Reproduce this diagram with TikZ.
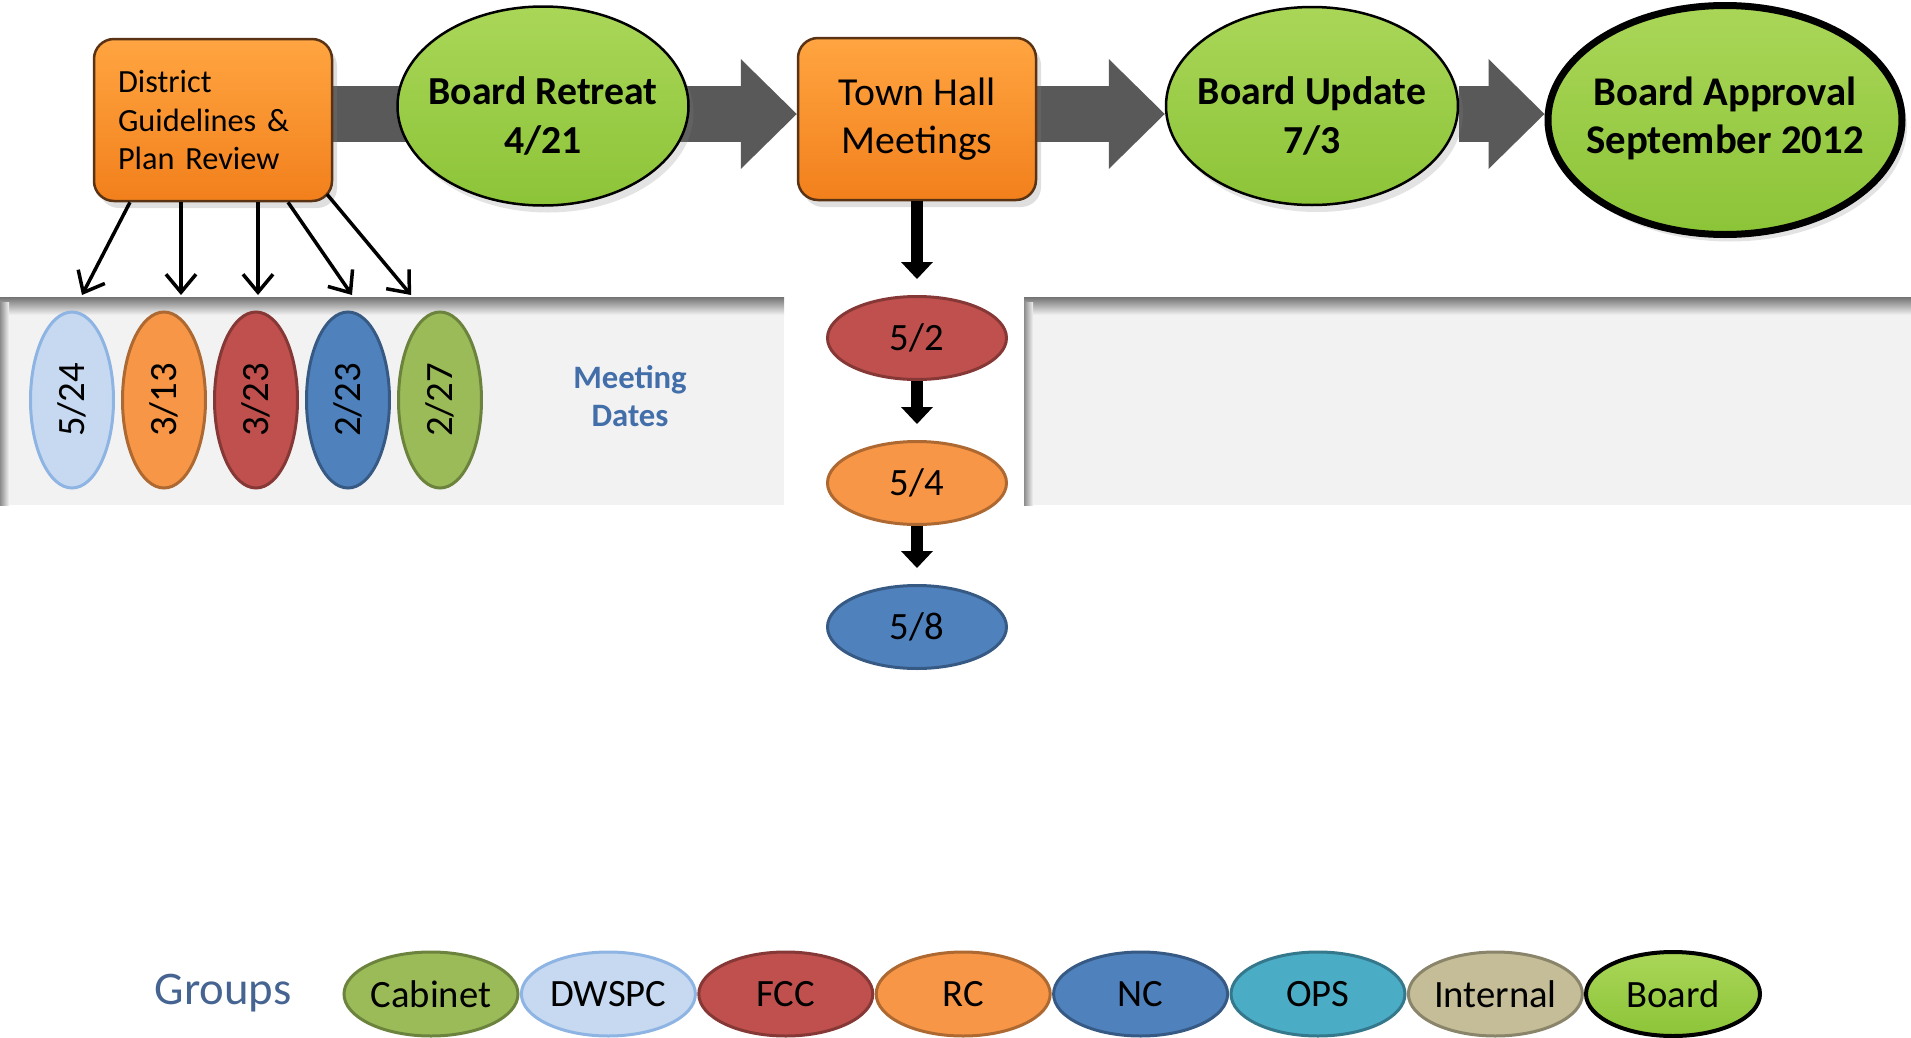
\documentclass[tikz,border=0pt]{standalone}
\usepackage{fontspec}
\setmainfont{Carlito}
\usetikzlibrary{arrows.meta,calc,shapes.geometric,backgrounds,shadows}
\definecolor{BoxOrange}{RGB}{242,128,28}
\definecolor{BoxOrangeTop}{RGB}{255,165,65}
\definecolor{BoxEdge}{RGB}{90,50,20}
\definecolor{BoardGreen}{RGB}{140,196,56}
\definecolor{BoardGreenTop}{RGB}{170,214,88}
\definecolor{FlowGray}{RGB}{89,89,89}
\definecolor{BandGray}{RGB}{242,242,242}
\definecolor{LabelBlue}{RGB}{66,110,170}
\definecolor{GroupBlue}{RGB}{70,100,145}
\definecolor{CabinetGreen}{RGB}{155,187,89}
\definecolor{DwspcBlue}{RGB}{198,217,241}
\definecolor{DwspcEdge}{RGB}{141,180,226}
\definecolor{FccRed}{RGB}{192,80,77}
\definecolor{RcOrange}{RGB}{247,150,70}
\definecolor{NcBlue}{RGB}{79,129,189}
\definecolor{OpsTeal}{RGB}{75,172,198}
\definecolor{InternalTan}{RGB}{196,189,151}
\tikzset{
  stepbox/.style={rectangle, rounded corners=2mm, draw=BoxEdge, line width=0.25mm,
    top color=BoxOrangeTop, bottom color=BoxOrange, minimum width=23.8mm, minimum height=16.2mm,
    inner sep=0pt, drop shadow={opacity=0.25, shadow xshift=0.5mm, shadow yshift=-0.7mm}},
  boardnode/.style={ellipse, draw=black, line width=0.25mm, top color=BoardGreenTop, bottom color=BoardGreen,
    inner sep=0pt, drop shadow={opacity=0.22, shadow xshift=0.5mm, shadow yshift=-0.7mm}},
  boardtext/.style={align=center, inner sep=0pt, font=\fontsize{11.3}{13.7}\selectfont\bfseries},
  datenode/.style={ellipse, line width=0.3mm, inner sep=0pt, font=\fontsize{11}{13}\selectfont},
  groupnode/.style={ellipse, line width=0.3mm, inner xsep=-1mm, inner ysep=0pt,
    minimum width=17.4mm, minimum height=8.4mm, font=\fontsize{11}{13}\selectfont},
  flowarrow/.style={FlowGray, line width=5.6mm, -{Triangle[length=5.6mm, width=11mm, line width=0pt]}},
  feedarrow/.style={black, line width=0.35mm, -{Straight Barb[length=1.8mm, width=3mm]}},
  pusharrow/.style={black, line width=1.2mm, shorten >=1.6mm, -{Triangle[length=1.7mm, width=3.2mm, line width=0pt]}},
}
\begin{document}
\begin{tikzpicture}[x=0.1mm, y=-0.1mm, every node/.style={font=\fontsize{11}{13}\selectfont}]
  \useasboundingbox (0,0) rectangle (1911,1038);

  % meeting band
  \fill[BandGray] (0,297) rectangle (784,505);
  \fill[BandGray] (1024,297) rectangle (1911,505);
  \shade[top color=black!55, bottom color=BandGray] (0,297) rectangle (784,315);
  \shade[top color=black!55, bottom color=BandGray] (1024,297) rectangle (1911,315);
  \shade[left color=black!45, right color=BandGray] (0,302) rectangle (9,505);
  \shade[left color=black!45, right color=BandGray] (1024,302) rectangle (1033,505);

  % main steps
  \node[stepbox, align=left, text width=19mm, font=\fontsize{9.2}{10.9}\selectfont] (dist) at (213,120) {District\\Guidelines \&\\Plan Review};
  \node[boardnode, minimum width=29.1mm, minimum height=19.9mm,
    label={[boardtext, yshift=-1mm]center:{Board Retreat\\4/21}}] (retreat) at (543,106) {};
  \node[stepbox, align=center, font=\fontsize{11.3}{13.7}\selectfont] (townhall) at (917,119) {Town Hall\\Meetings};
  \node[boardnode, minimum width=29.2mm, minimum height=19.8mm,
    label={[boardtext, yshift=-1mm]center:{Board Update\\7/3}}] (update) at (1312,106) {};
  \node[boardnode, line width=0.7mm, minimum width=35.4mm, minimum height=22.9mm,
    label={[boardtext, font=\fontsize{11.6}{13.7}\selectfont\bfseries, yshift=0.2mm]center:{Board Approval\\September 2012}}] (approval) at (1725,120) {};

  \coordinate (axis) at (0,114);
  \begin{scope}[on background layer]
    \draw[flowarrow] (dist.east |- axis) -- (townhall.west |- axis);
    \draw[flowarrow] (townhall.east |- axis) -- (update.west |- axis);
    \draw[flowarrow] (update.east |- axis) -- (approval.west |- axis);
  \end{scope}

  % district meeting dates
  \foreach \x/\day/\clr/\edge in {
    72/{5/24}/DwspcBlue/DwspcEdge, 164/{3/13}/RcOrange/RcOrange!70!black,
    256/{3/23}/FccRed/FccRed!70!black, 348/{2/23}/NcBlue/NcBlue!70!black,
    440/{2/27}/CabinetGreen/CabinetGreen!70!black}{
    \node[datenode, fill=\clr, draw=\edge, rotate=90, minimum width=17.6mm, minimum height=8.3mm] (band\x) at (\x,400) {\day};
  }
  \foreach \dx/\dy/\ex [count=\i] in {-83/0/82, -32/0/181, 45/0/258, 75/0/352, 114/-8/411}{
    \coordinate (drop\i) at (\ex,295);
    \draw[feedarrow] ($(dist.south)+(\dx,\dy)$) -- (drop\i);
  }
  \node[font=\fontsize{9.3}{10.8}\selectfont\bfseries, text=LabelBlue, align=center] (meetlabel) at (630,396) {Meeting\\Dates};

  % town hall dates
  \foreach \y/\day/\clr [count=\i] in {338/{5/2}/FccRed, 483/{5/4}/RcOrange, 627/{5/8}/NcBlue}{
    \node[datenode, fill=\clr, draw=\clr!70!black, minimum width=17.9mm, minimum height=8.3mm] (hall\i) at (917,\y) {\day};
  }
  \draw[pusharrow] (townhall) -- (hall1);
  \draw[pusharrow] (hall1) -- (hall2);
  \draw[pusharrow] (hall2) -- (hall3);

  % legend
  \node[font=\fontsize{13.3}{15}\selectfont, text=GroupBlue] (groups) at (223,993) {Groups};
  \foreach \name/\clr/\edge [count=\i from 0] in {
    Cabinet/CabinetGreen/CabinetGreen!70!black, DWSPC/DwspcBlue/DwspcEdge,
    FCC/FccRed/FccRed!70!black, RC/RcOrange/RcOrange!70!black,
    NC/NcBlue/NcBlue!70!black, OPS/OpsTeal/OpsTeal!70!black,
    Internal/InternalTan/InternalTan!70!black}{
    \node[groupnode, fill=\clr, draw=\edge] (grp\i) at (431+177.4*\i,994) {\name};
  }
  \node[groupnode, draw=black, line width=0.4mm, top color=BoardGreenTop, bottom color=BoardGreen] (grp7) at (1673,994) {Board};
\end{tikzpicture}
\end{document}
